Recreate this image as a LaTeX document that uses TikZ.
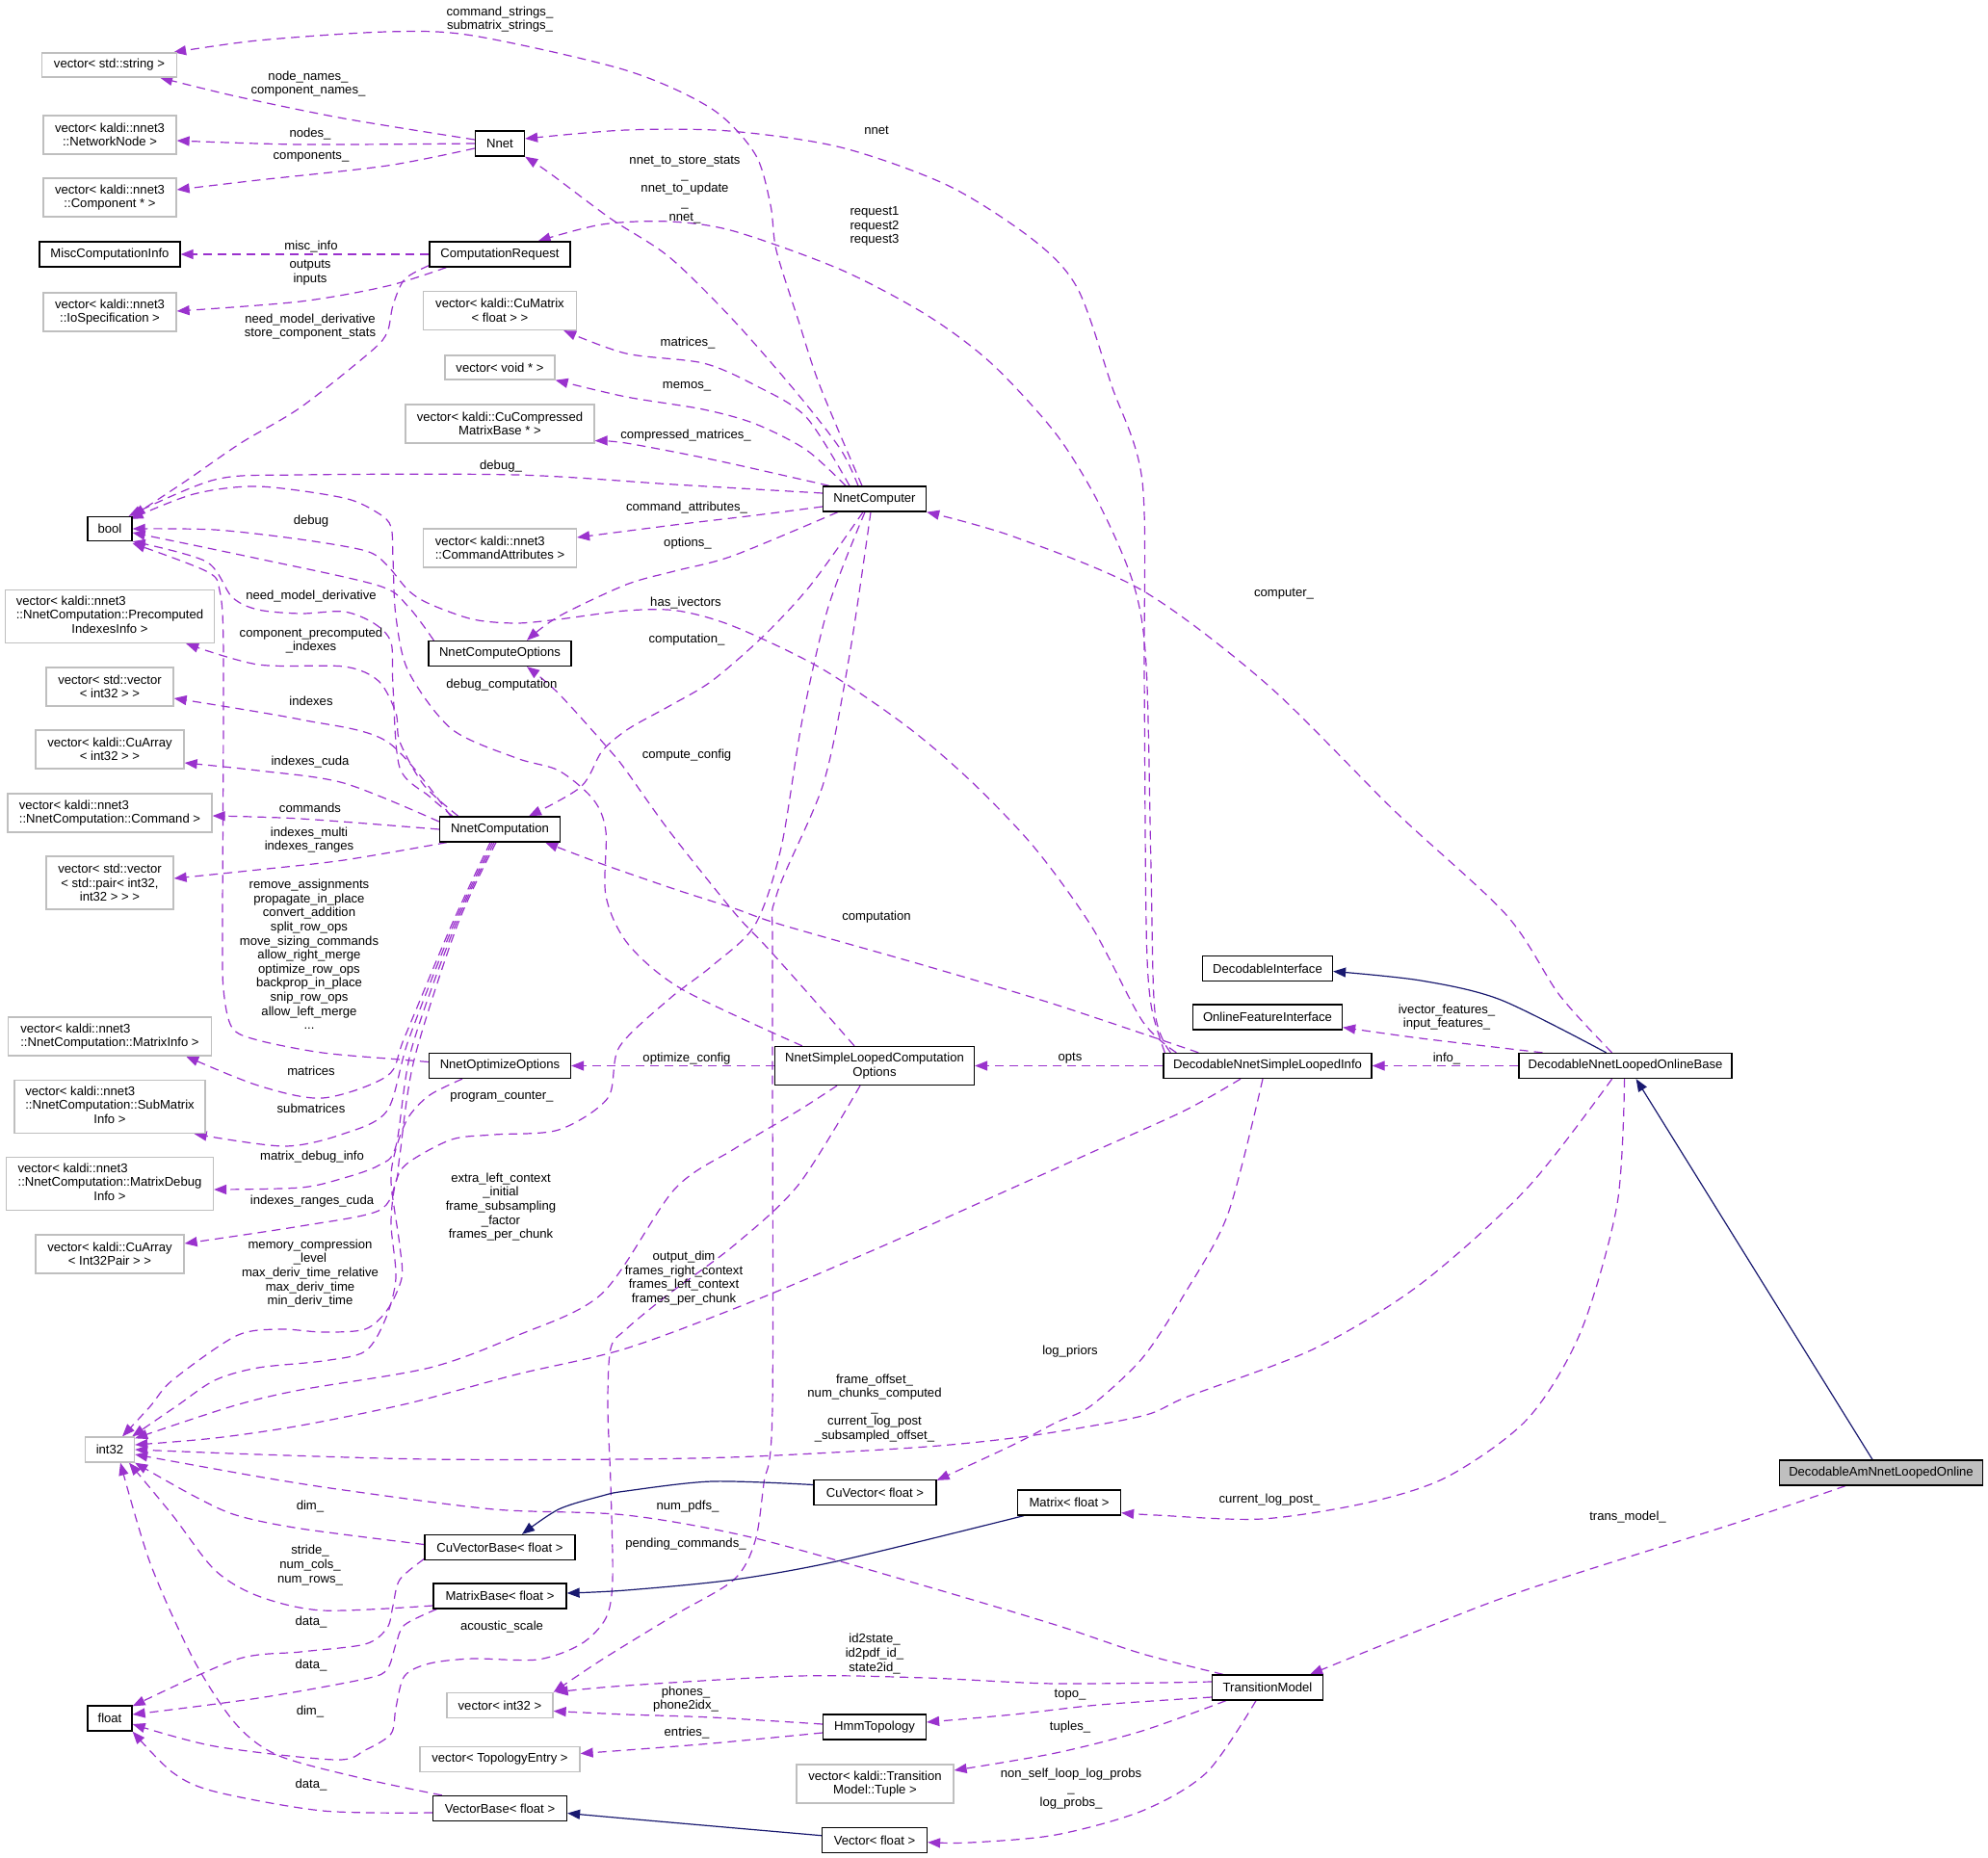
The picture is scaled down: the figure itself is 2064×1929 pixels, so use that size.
\documentclass[tikz,border=0pt]{standalone}
\usepackage{fontspec}
\setmainfont{Liberation Sans}
\usetikzlibrary{arrows.meta}
\definecolor{ep}{HTML}{9A32CD}
\definecolor{nv}{HTML}{191970}
\definecolor{gb}{HTML}{BFBFBF}
\newcommand\nf{\fontsize{13.1}{14.6}\selectfont}
\pgfdeclarelayer{bgl}\pgfdeclarelayer{edl}\pgfsetlayers{bgl,edl,main}
\tikzset{
  box/.style={draw=black, fill=white, line width=1.3pt, inner sep=1pt, align=center, font=\nf, minimum height=26pt},
  gbx/.style={box, draw=gb},
  usee/.style={draw=ep, line width=1.2pt, dash pattern=on 9pt off 6pt, -{Triangle[length=13pt,width=10pt]}},
  inh/.style={draw=nv, line width=1.2pt, -{Triangle[length=13pt,width=10pt]}},
  lbl/.style={align=center, inner sep=0pt, font=\nf},
}
\begin{document}
\begin{tikzpicture}[x=1pt,y=-1pt]
\begin{pgfonlayer}{bgl}
\fill[white] (0,0) rectangle (2064,1929);
\end{pgfonlayer}
\useasboundingbox (0,0) rectangle (2064,1929);
% ---------- nodes ----------
\node[gbx, minimum width=140pt, minimum height=25pt] (vstring) at (113.5,67.5) {vector< std::string >};
\node[gbx, minimum width=138pt, minimum height=40pt] (netnode) at (114,140) {vector< kaldi::nnet3\\::NetworkNode >};
\node[gbx, minimum width=138pt, minimum height=40pt] (comp) at (114,205) {vector< kaldi::nnet3\\::Component * >};
\node[box, minimum width=51pt] (nnet) at (519,149) {Nnet};
\node[box, minimum width=146pt] (misc) at (114,264) {MiscComputationInfo};
\node[box, minimum width=146pt] (cr) at (519,264) {ComputationRequest};
\node[gbx, minimum width=138pt, minimum height=40pt] (iospec) at (114,324) {vector< kaldi::nnet3\\::IoSpecification >};
\node[gbx, minimum width=159pt, minimum height=40pt] (cumat) at (519,322.5) {vector< kaldi::CuMatrix\\< float > >};
\node[gbx, minimum width=114pt, minimum height=25pt] (vvoid) at (519,381.5) {vector< void * >};
\node[gbx, minimum width=196pt, minimum height=40pt] (cucomp) at (519,440) {vector< kaldi::CuCompressed\\MatrixBase * >};
\node[box, minimum width=46pt, minimum height=25pt] (bool) at (114,549) {bool};
\node[gbx, minimum width=159pt, minimum height=40pt, align=left] (cattr) at (519,569) {vector< kaldi::nnet3\\::CommandAttributes >};
\node[box, minimum width=107pt] (nc) at (908,518) {NnetComputer};
\node[gbx, minimum width=217pt, minimum height=55pt] (pci) at (114,640) {\begin{tabular}{@{}l@{}}vector< kaldi::nnet3\\::NnetComputation::Precomputed\\\multicolumn{1}{@{}c@{}}{IndexesInfo >}\end{tabular}};
\node[box, minimum width=148pt] (nco) at (519,678.5) {NnetComputeOptions};
\node[gbx, minimum width=132pt, minimum height=40pt] (vvint) at (114,713) {vector< std::vector\\< int32 > >};
\node[gbx, minimum width=154pt, minimum height=40pt] (cuarr) at (114,778) {vector< kaldi::CuArray\\< int32 > >};
\node[gbx, minimum width=212pt, minimum height=40pt, align=left] (cmd) at (114,844) {vector< kaldi::nnet3\\::NnetComputation::Command >};
\node[box, minimum width=125pt] (ncomp) at (519,861) {NnetComputation};
\node[gbx, minimum width=132pt, minimum height=55pt] (pair) at (114,916.5) {vector< std::vector\\< std::pair< int32,\\int32 > > >};
\node[gbx, minimum width=211pt, minimum height=40pt, align=left] (mi) at (114,1076) {vector< kaldi::nnet3\\::NnetComputation::MatrixInfo >};
\node[box, minimum width=147pt] (noo) at (519,1106.5) {NnetOptimizeOptions};
\node[gbx, minimum width=198pt, minimum height=55pt] (smi) at (114,1149) {\begin{tabular}{@{}l@{}}vector< kaldi::nnet3\\::NnetComputation::SubMatrix\\\multicolumn{1}{@{}c@{}}{Info >}\end{tabular}};
\node[gbx, minimum width=215pt, minimum height=55pt] (mdi) at (114,1229) {\begin{tabular}{@{}l@{}}vector< kaldi::nnet3\\::NnetComputation::MatrixDebug\\\multicolumn{1}{@{}c@{}}{Info >}\end{tabular}};
\node[gbx, minimum width=154pt, minimum height=40pt] (cuarr2) at (114,1302) {vector< kaldi::CuArray\\< Int32Pair > >};
\node[gbx, minimum width=51pt] (int) at (114,1505) {int32};
\node[box, minimum width=156pt] (cvb) at (519,1606.5) {CuVectorBase< float >};
\node[box, minimum width=138pt] (mb) at (519,1657) {MatrixBase< float >};
\node[box, minimum width=46pt] (flt) at (114,1784) {float};
\node[gbx, minimum width=110pt] (vint) at (519,1770.5) {vector< int32 >};
\node[gbx, minimum width=166pt] (topo) at (519,1826.5) {vector< TopologyEntry >};
\node[box, minimum width=139pt] (vb) at (519,1877.5) {VectorBase< float >};
\node[box, minimum width=207pt, minimum height=40pt] (nslco) at (908,1106.5) {NnetSimpleLoopedComputation\\Options};
\node[box, minimum width=135pt] (di) at (1316,1005.5) {DecodableInterface};
\node[box, minimum width=155pt] (ofi) at (1316,1056) {OnlineFeatureInterface};
\node[box, minimum width=216pt] (dnsli) at (1316,1106.5) {DecodableNnetSimpleLoopedInfo};
\node[box, minimum width=221pt] (dnlob) at (1687.6,1106.5) {DecodableNnetLoopedOnlineBase};
\node[box, fill=gb, minimum width=211pt] (damnlo) at (1953,1529) {DecodableAmNnetLoopedOnline};
\node[box, minimum width=127pt] (cuvec) at (908.5,1549.5) {CuVector< float >};
\node[box, minimum width=107pt] (matf) at (1110,1560) {Matrix< float >};
\node[box, minimum width=115pt] (tm) at (1316,1752) {TransitionModel};
\node[box, minimum width=107pt] (hmm) at (908,1793) {HmmTopology};
\node[gbx, minimum width=163pt, minimum height=40pt] (tuple) at (908.5,1852) {vector< kaldi::Transition\\Model::Tuple >};
\node[box, minimum width=109pt] (vecf) at (908,1910.7) {Vector< float >};
% ---------- edges ----------
\begin{pgfonlayer}{edl}
\draw[usee] plot[smooth] coordinates {([xshift=-13pt]nc.north) (851,400) (829,333) (806,260) (800,213) (784,160) (739,113) (650,73) (491,37) (402,33) (268,42) ([xshift=-4pt]vstring.north east)};
\draw[usee] plot[smooth] coordinates {([yshift=4pt]nnet.west) (357,123) (245,100) ([xshift=-18pt]vstring.south east)};
\draw[usee] plot[smooth] coordinates {(nnet.west) (312,150) ([yshift=-6pt]netnode.east)};
\draw[usee] plot[smooth] coordinates {([yshift=-5pt]nnet.west) (402,172) (268,187) ([yshift=8pt]comp.east)};
\draw[usee] (cr.west) -- (misc.east);
\draw[usee] plot[smooth] coordinates {([xshift=18pt]cr.south west) (402,297) (312,313) ([yshift=1pt]iospec.east)};
\draw[usee] plot[smooth] coordinates {([yshift=2pt]cr.south west) (420,290) (408,317) (402,345) (385,365) (312,423) (250,460) (192,500) (bool.north east)};
\draw[usee] plot[smooth] coordinates {([xshift=-17pt]nc.north) (873,467) (829,410) (762,333) (695,267) (634,227) (571,180) (nnet.south east)};
\draw[usee] plot[smooth] coordinates {([xshift=2pt]dnsli.north west) (1195,1043) (1190,960) (1188,700) (1186,500) (1154,400) (1119,300) (1074,250) (985,193) (873,153) (757,136) (650,135) ([yshift=5pt]nnet.east)};
\draw[usee] plot[smooth] coordinates {([xshift=8pt]dnsli.north west) (1199,1050) (1195,900) (1190,690) (1177,607) (1141,523) (1096,450) (1029,377) (962,327) (873,280) (762,240) (695,230) (625,233) ([xshift=-34pt]cr.north east)};
\draw[usee] plot[smooth] coordinates {([xshift=-26pt]nc.north) (837,433) (784,400) (730,377) (650,367) ([xshift=-14pt]cumat.south east)};
\draw[usee] plot[smooth] coordinates {([xshift=-30pt]nc.north) (837,467) (784,440) (730,425) (650,412) (vvoid.south east)};
\draw[usee] plot[smooth] coordinates {([xshift=7pt]nc.north west) (842,500) (739,477) (650,460) ([yshift=3pt]cucomp.south east)};
\draw[usee] plot[smooth] coordinates {([yshift=6pt]nc.west) (700,503) (536,493) (312,493) (223,498) ([xshift=-4pt]bool.north east)};
\draw[usee] plot[smooth] coordinates {([yshift=-8pt]nc.west) (784,535) (700,545) ([yshift=11pt]cattr.east)};
\draw[usee] plot[smooth] coordinates {([xshift=16pt]nc.south west) (761,577) (700,593) (650,607) (580,640) ([xshift=28pt]nco.north)};
\draw[usee] plot[smooth] coordinates {([xshift=14pt]dnsli.north west) (1186,1060) (1134,963) (1074,880) (1007,810) (940,753) (851,693) (761,650) (703,634) (650,634) (580,643) (536,647) (491,643) (446,627) (424,613) (402,587) (380,572) (312,560) (223,550) (bool.east)};
\draw[usee] plot[smooth] coordinates {([xshift=6pt]nco.north west) (424,630) (393,608) (268,580) ([yshift=-4pt]bool.east)};
\draw[usee] plot[smooth] coordinates {([xshift=14pt]ncomp.north west) (446,827) (415,797) (408,713) (406,667) (388,647) (357,635) (312,637) (268,633) (241,620) (214,583) (bool.south east)};
\draw[usee] plot[smooth] coordinates {([xshift=20pt]ncomp.north west) (440,815) (415,770) (411,740) (393,707) (357,692) (268,690) ([xshift=-30pt]pci.south east)};
\draw[usee] plot[smooth] coordinates {([xshift=12pt]ncomp.north west) (402,770) (312,747) ([yshift=-12pt]vvint.east)};
\draw[usee] plot[smooth] coordinates {([yshift=8pt]ncomp.west) (357,813) (268,800) ([yshift=-14pt]cuarr.east)};
\draw[usee] plot[smooth] coordinates {(ncomp.west) (312,850) ([yshift=-3pt]cmd.east)};
\draw[usee] plot[smooth] coordinates {([xshift=8pt]ncomp.south west) (357,893) (268,903) ([yshift=4.5pt]pair.east)};
\draw[usee] plot[smooth] coordinates {([xshift=-10pt]ncomp.south) (469,960) (420,1077) (402,1117) (335,1140) (268,1127) ([xshift=-27pt]mi.south east)};
\draw[usee] plot[smooth] coordinates {([xshift=-8pt]ncomp.south) (471,960) (424,1080) (402,1153) (357,1177) (295,1190) ([xshift=-12pt]smi.south east)};
\draw[usee] plot[smooth] coordinates {([xshift=-6pt]ncomp.south) (473,960) (427,1090) (411,1190) (393,1210) (357,1223) (312,1233) ([yshift=-6pt]mdi.east)};
\draw[usee] plot[smooth] coordinates {([xshift=-4pt]ncomp.south) (475,960) (430,1100) (415,1200) (411,1227) (393,1257) (312,1273) ([yshift=11pt]cuarr2.east)};
\draw[usee] plot[smooth] coordinates {([yshift=4pt]noo.west) (415,1100) (335,1093) (268,1080) (241,1067) (232,1027) (231,960) (232,680) (228,613) (214,593) ([yshift=-2pt]bool.south east)};
\draw[usee] plot[smooth] coordinates {([xshift=-12pt]nc.south) (842,607) (793,660) (739,707) (695,733) (652,757) (625,780) (603,817) ([xshift=30pt]ncomp.north)};
\draw[usee] plot[smooth] coordinates {([xshift=-21pt]nslco.north) (829,1020) (793,980) (762,947) (695,863) (650,800) (634,780) (580,720) ([xshift=28pt]nco.south)};
\draw[usee] plot[smooth] coordinates {([xshift=29pt]nslco.north west) (708,1027) (652,980) (629,930) (629,863) (616,830) (580,800) (536,787) (469,757) (424,697) (411,640) (408,580) (406,547) (393,533) (357,517) (268,505) (201,513) ([xshift=-2pt,yshift=-3pt]bool.north east)};
\draw[usee] plot[smooth] coordinates {([xshift=37pt]dnsli.north west) (1096,1043) (962,1003) (811,960) (762,943) (700,923) (625,897) ([xshift=-16pt]ncomp.south east)};
\draw[usee] (nslco.west) -- (noo.east);
\draw[usee] (dnsli.west) -- (nslco.east);
\draw[usee] (dnlob.west) -- (dnsli.east);
\draw[usee] plot[smooth] coordinates {([xshift=25pt]dnlob.north west) (1475,1078) ([yshift=3pt]ofi.south east)};
\draw[usee] plot[smooth] coordinates {([xshift=-14pt]dnlob.north) (1619,1033) (1564,950) (1448,842) (1316,711) (1186,613) (1052,557) (nc.south east)};
\draw[usee] plot[smooth] coordinates {([xshift=-10pt]nc.south) (860,630) (833,747) (811,880) (784,960) (739,1003) (695,1037) (643,1087) (631,1140) (580,1173) (513,1178) (469,1183) (424,1207) (411,1227) (406,1270) (411,1327) (400,1370) (379,1403) (335,1413) (268,1420) (223,1433) (183,1460) ([xshift=-3pt]int.north east)};
\draw[usee] plot[smooth] coordinates {([xshift=-39pt]nslco.south) (829,1153) (762,1193) (700,1235) (625,1343) (536,1387) (446,1420) (312,1443) (241,1460) ([yshift=-2pt]int.north east)};
\draw[usee] plot[smooth] coordinates {([xshift=-39pt]noo.south) (446,1137) (424,1160) (411,1193) (406,1227) (415,1293) (417,1327) (402,1360) (379,1380) (335,1383) (290,1380) (245,1387) (179,1433) (156,1460) ([xshift=13pt]int.north)};
\draw[usee] plot[smooth] coordinates {([xshift=-28pt]dnsli.south) (1230,1153) (1141,1193) (1052,1233) (918,1293) (784,1350) (650,1400) (536,1427) (424,1457) (312,1480) (223,1493) ([yshift=5pt]int.east)};
\draw[usee] plot[smooth] coordinates {([xshift=-14pt]dnlob.south) (1586,1233) (1475,1333) (1365,1400) (1233,1450) (1186,1470) (1074,1490) (962,1502) (784,1512) (650,1515) (446,1515) (268,1510) (int.east)};
\draw[usee] plot[smooth] coordinates {([xshift=-5pt]dnsli.south) (1275,1260) (1230,1343) (1186,1410) (1132,1460) (1096,1477) (1052,1500) ([yshift=-1pt]cuvec.north east)};
\draw[usee] plot[smooth] coordinates {([xshift=-1pt]dnlob.south) (1679,1250) (1641,1383) (1586,1473) (1503,1533) (1420,1560) (1310,1577) (1200,1573) ([yshift=3pt]matf.south east)};
\draw[usee] plot[smooth] coordinates {([xshift=12pt]tm.north west) (1186,1717) (1096,1687) (962,1647) (784,1597) (650,1573) (513,1567) (357,1547) (268,1533) ([yshift=-5pt]int.east)};
\draw[usee] plot[smooth] coordinates {([xshift=-4pt]nc.south) (882,680) (855,813) (806,930) (802,1000) (802,1460) (793,1540) (784,1600) (762,1640) (700,1677) (625,1723) (vint.north east)};
\draw[usee] plot[smooth] coordinates {([yshift=3pt]cvb.west) (312,1587) (245,1573) (201,1553) (int.south east)};
\draw[usee] plot[smooth] coordinates {([yshift=-10pt]mb.west) (335,1672) (268,1657) (223,1630) (179,1573) ([xshift=20pt]int.south)};
\draw[usee] plot[smooth] coordinates {([yshift=-12pt]cvb.west) (415,1640) (408,1667) (402,1690) (379,1707) (312,1715) (245,1723) ([yshift=-1pt]flt.north east)};
\draw[usee] plot[smooth] coordinates {([xshift=4pt]mb.south west) (420,1687) (411,1707) (402,1733) (379,1743) (268,1763) ([yshift=4pt]flt.east)};
\draw[usee] plot[smooth] coordinates {([xshift=-15pt]nslco.south) (829,1230) (762,1293) (695,1343) (650,1380) (634,1400) (631,1460) (634,1540) (636,1640) (629,1680) (603,1707) (558,1723) (491,1722) (446,1727) (420,1740) (411,1773) (406,1800) (379,1817) (348,1827) (223,1813) ([yshift=-6pt]flt.east)};
\draw[usee] plot[smooth] coordinates {([xshift=10pt]vb.north west) (379,1847) (290,1823) (245,1790) (201,1723) (156,1623) ([xshift=11pt]int.south)};
\draw[usee] plot[smooth] coordinates {([yshift=-4.5pt]vb.west) (335,1880) (223,1860) (179,1840) (flt.south east)};
\draw[usee] plot[smooth] coordinates {([yshift=6pt]tm.west) (1096,1748) (962,1742) (829,1740) (650,1750) ([xshift=2pt]vint.north east)};
\draw[usee] plot[smooth] coordinates {([yshift=3pt]hmm.west) (739,1783) (650,1780) ([yshift=-6pt]vint.east)};
\draw[usee] plot[smooth] coordinates {([yshift=-10pt]tm.west) (1141,1770) (1052,1780) ([yshift=5pt]hmm.east)};
\draw[usee] plot[smooth] coordinates {([yshift=-6pt]hmm.west) (739,1810) (650,1817) ([yshift=6pt]topo.east)};
\draw[usee] plot[smooth] coordinates {([xshift=15pt]tm.south west) (1186,1797) (1096,1820) ([yshift=14pt]tuple.east)};
\draw[usee] plot[smooth] coordinates {([xshift=-12pt]tm.south) (1253,1840) (1186,1880) (1096,1905) (1007,1913) ([yshift=-2pt]vecf.east)};
\draw[usee] plot[smooth] coordinates {([xshift=-37pt]damnlo.south) (1806,1580) (1586,1650) (1480,1690) ([xshift=-14pt]tm.north east)};
% inheritance
\draw[inh] plot[smooth] coordinates {([xshift=-20pt]dnlob.north) (1558,1038) (1475,1018) ([yshift=-3pt]di.east)};
\draw[inh] ([xshift=-9pt]damnlo.north) -- ([xshift=11pt]dnlob.south);
\draw[inh] plot[smooth] coordinates {([yshift=8pt]cuvec.west) (739,1538) (650,1548) (625,1553) (580,1567) ([xshift=23pt]cvb.north)};
\draw[inh] plot[smooth] coordinates {([xshift=7pt]matf.south west) (873,1620) (762,1640) (650,1651) ([yshift=3pt]mb.east)};
\draw[inh] plot[smooth] coordinates {([yshift=5pt]vecf.west) (650,1888) ([yshift=-5pt]vb.east)};
\end{pgfonlayer}
% ---------- labels ----------
\node[lbl] (l1) at (519,20) {command\_strings\_\\submatrix\_strings\_};
\node[lbl] (l2) at (320,87) {node\_names\_\\component\_names\_};
\node[lbl] (l3) at (322,139) {nodes\_};
\node[lbl] (l4) at (323,163) {components\_};
\node[lbl] (l5) at (323,256) {misc\_info};
\node[lbl] (l6) at (322,283) {outputs\\inputs};
\node[lbl] (l7) at (322,339) {need\_model\_derivative\\store\_component\_stats};
\node[lbl] (l8) at (711,197) {nnet\_to\_store\_stats\\\_\\nnet\_to\_update\\\_\\nnet\_};
\node[lbl] (l9) at (910,135) {nnet};
\node[lbl] (l10) at (908,235) {request1\\request2\\request3};
\node[lbl] (l11) at (714,356) {matrices\_};
\node[lbl] (l12) at (713,401) {memos\_};
\node[lbl] (l13) at (712,452) {compressed\_matrices\_};
\node[lbl] (l14) at (520,484) {debug\_};
\node[lbl] (l15) at (713,527) {command\_attributes\_};
\node[lbl] (l16) at (714,564) {options\_};
\node[lbl] (l17) at (712,626) {has\_ivectors};
\node[lbl] (l18) at (323,541) {debug};
\node[lbl] (l19) at (323,619) {need\_model\_derivative};
\node[lbl] (l20) at (323,665) {component\_precomputed\\\_indexes};
\node[lbl] (l21) at (323,728) {indexes};
\node[lbl] (l22) at (322,791) {indexes\_cuda};
\node[lbl] (l23) at (322,839) {commands};
\node[lbl] (l24) at (321,872) {indexes\_multi\\indexes\_ranges};
\node[lbl] (l25) at (321,991) {remove\_assignments\\propagate\_in\_place\\convert\_addition\\split\_row\_ops\\move\_sizing\_commands\\allow\_right\_merge\\optimize\_row\_ops\\backprop\_in\_place\\snip\_row\_ops\\allow\_left\_merge\\...};
\node[lbl] (l26) at (323,1112) {matrices};
\node[lbl] (l27) at (323,1151) {submatrices};
\node[lbl] (l28) at (324,1201) {matrix\_debug\_info};
\node[lbl] (l29) at (324,1247) {indexes\_ranges\_cuda};
\node[lbl] (l30) at (713,664) {computation\_};
\node[lbl] (l31) at (713,784) {compute\_config};
\node[lbl] (l32) at (521,711) {debug\_computation};
\node[lbl] (l33) at (910,952) {computation};
\node[lbl] (l34) at (713,1099) {optimize\_config};
\node[lbl] (l35) at (1111,1099) {opts};
\node[lbl] (l36) at (1502,1099) {info\_};
\node[lbl] (l37) at (1502,1056) {ivector\_features\_\\input\_features\_};
\node[lbl] (l38) at (1333,617) {computer\_};
\node[lbl] (l39) at (521,1139) {program\_counter\_};
\node[lbl] (l40) at (520,1253) {extra\_left\_context\\\_initial\\frame\_subsampling\\\_factor\\frames\_per\_chunk};
\node[lbl] (l41) at (322,1322) {memory\_compression\\\_level\\max\_deriv\_time\_relative\\max\_deriv\_time\\min\_deriv\_time};
\node[lbl] (l42) at (710,1327) {output\_dim\\frames\_right\_context\\frames\_left\_context\\frames\_per\_chunk};
\node[lbl] (l43) at (908,1462) {frame\_offset\_\\num\_chunks\_computed\\\_\\current\_log\_post\\\_subsampled\_offset\_};
\node[lbl] (l44) at (1111,1403) {log\_priors};
\node[lbl] (l45) at (1318,1557) {current\_log\_post\_};
\node[lbl] (l46) at (714,1564) {num\_pdfs\_};
\node[lbl] (l47) at (712,1603) {pending\_commands\_};
\node[lbl] (l48) at (322,1564) {dim\_};
\node[lbl] (l49) at (322,1625) {stride\_\\num\_cols\_\\num\_rows\_};
\node[lbl] (l50) at (323,1684) {data\_};
\node[lbl] (l51) at (323,1729) {data\_};
\node[lbl] (l52) at (521,1689) {acoustic\_scale};
\node[lbl] (l53) at (322,1777) {dim\_};
\node[lbl] (l54) at (323,1853) {data\_};
\node[lbl] (l55) at (908,1717) {id2state\_\\id2pdf\_id\_\\state2id\_};
\node[lbl] (l56) at (712,1764) {phones\_\\phone2idx\_};
\node[lbl] (l57) at (1111,1760) {topo\_};
\node[lbl] (l58) at (713,1799) {entries\_};
\node[lbl] (l59) at (1111,1793) {tuples\_};
\node[lbl] (l60) at (1112,1857) {non\_self\_loop\_log\_probs\\\_\\log\_probs\_};
\node[lbl] (l61) at (1690,1575) {trans\_model\_};
\end{tikzpicture}
\end{document}
